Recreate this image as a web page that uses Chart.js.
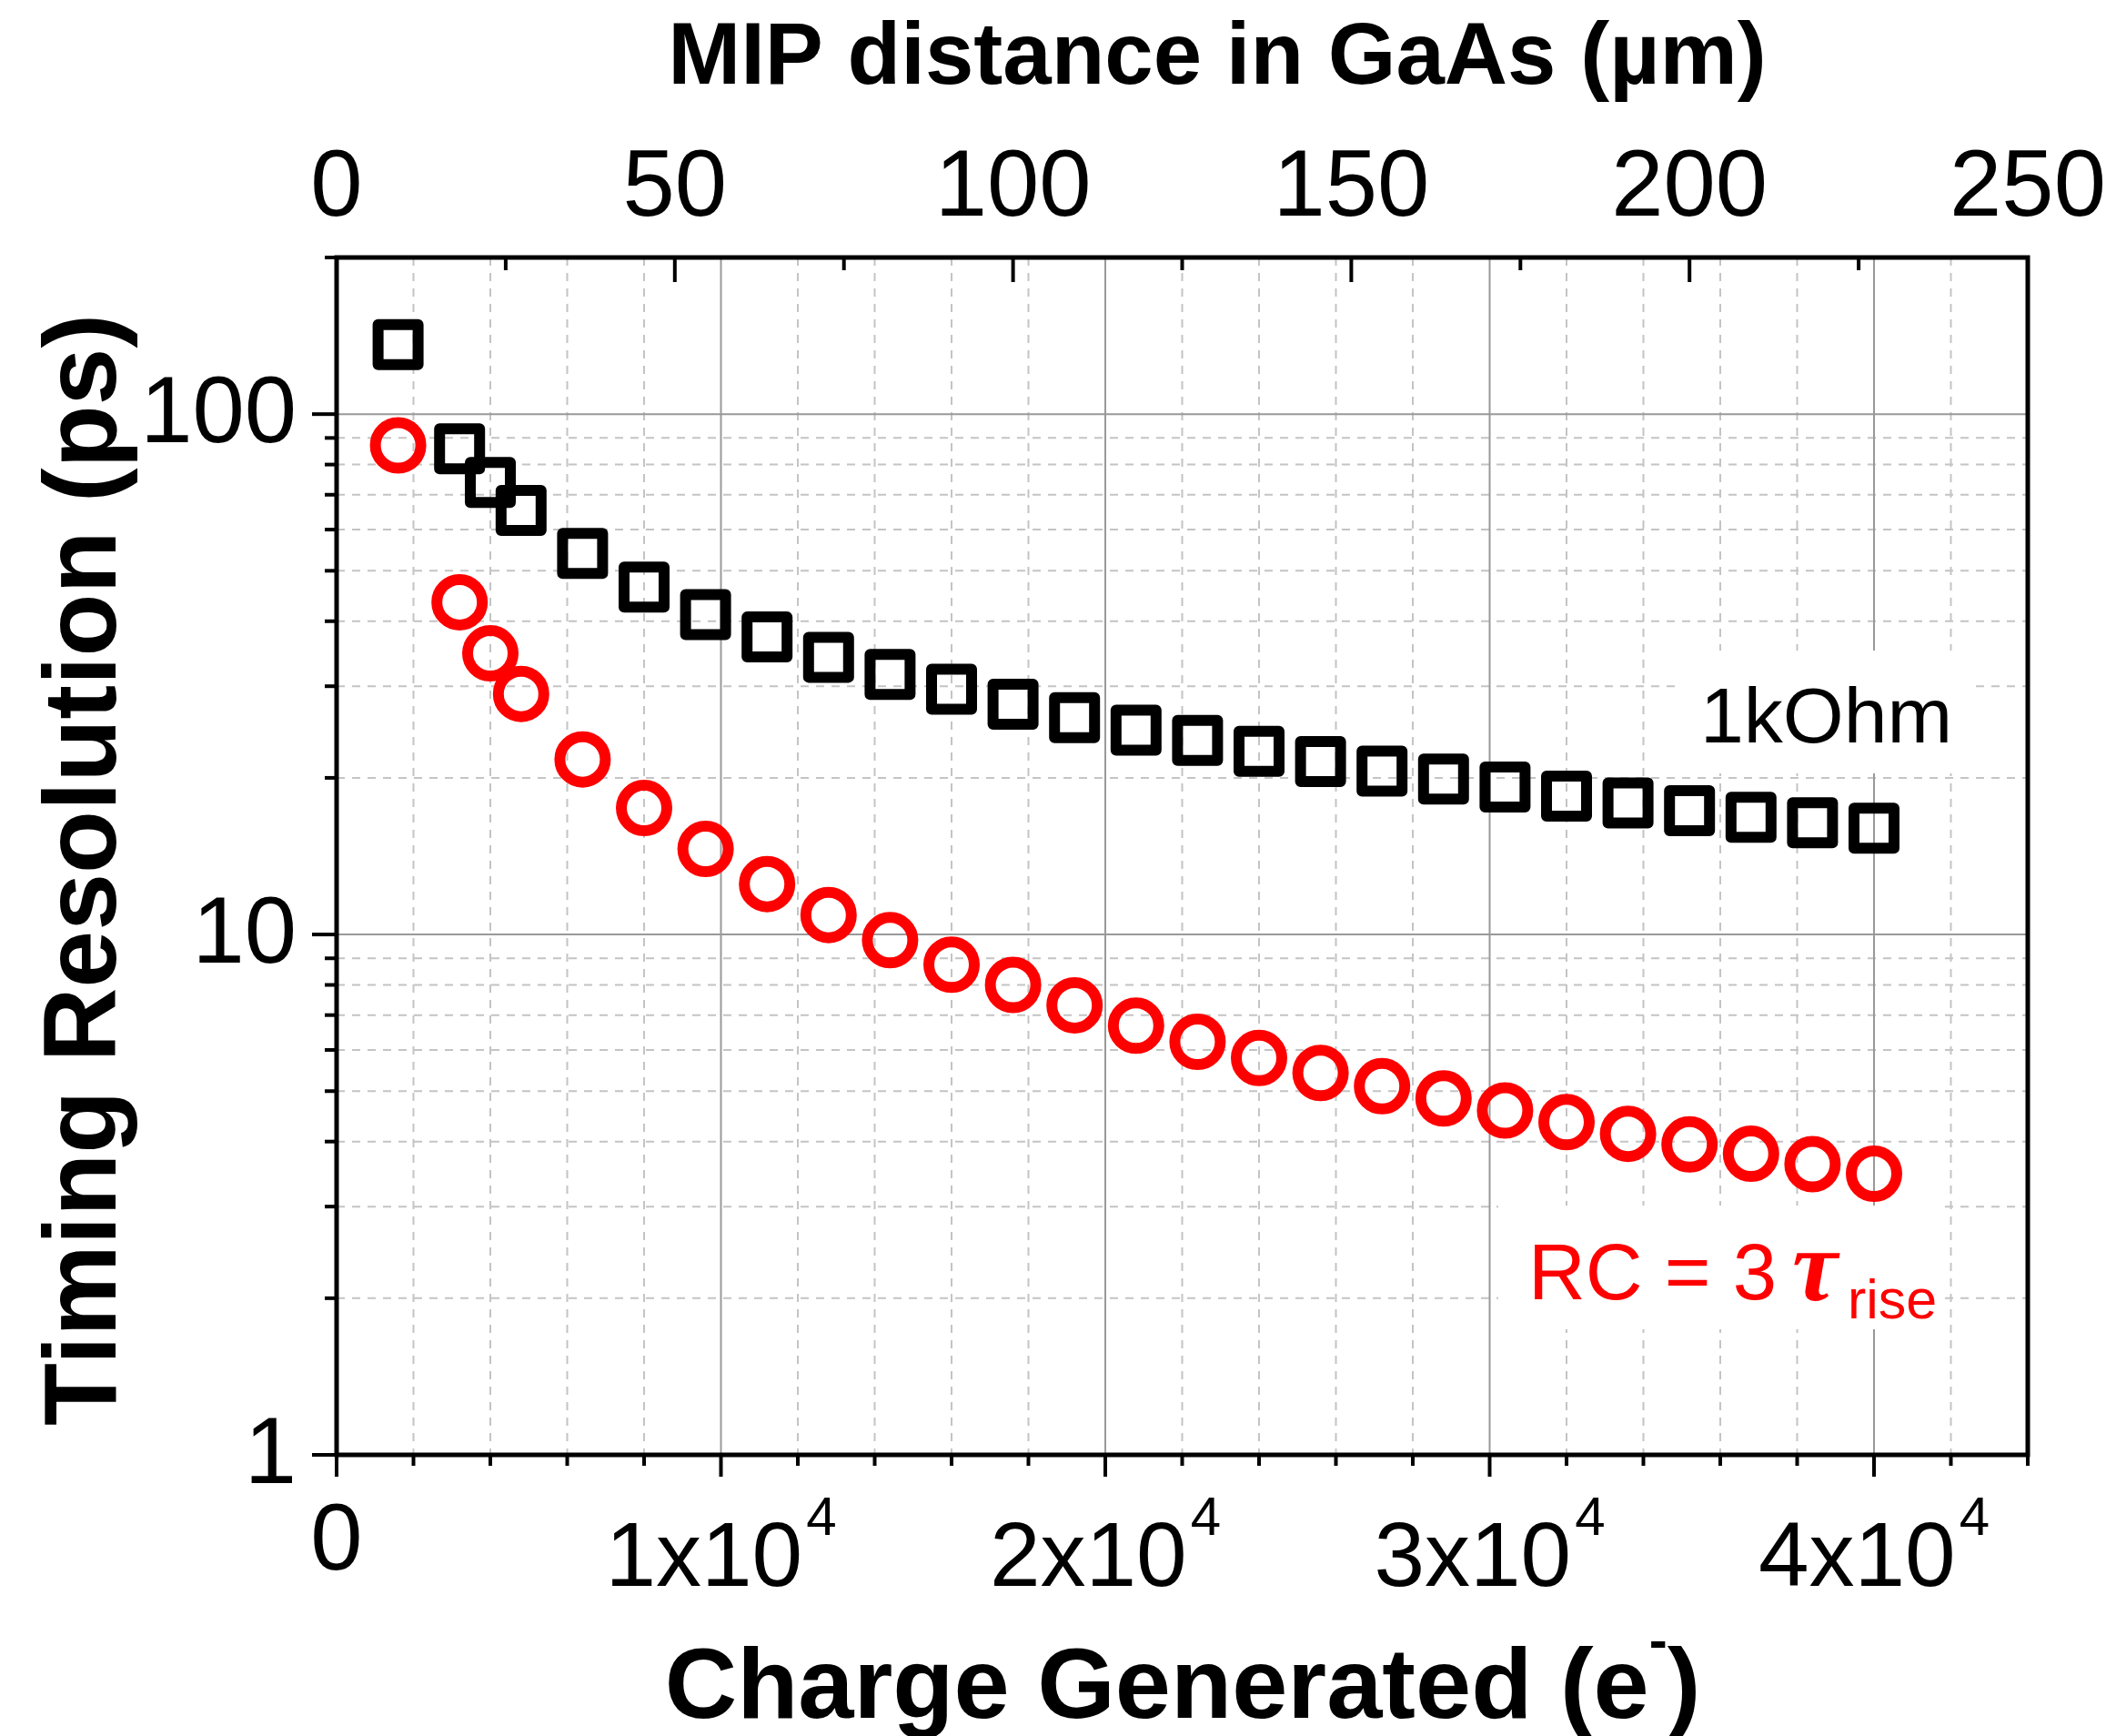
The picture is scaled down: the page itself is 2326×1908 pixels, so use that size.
<!DOCTYPE html>
<html>
<head>
<meta charset="utf-8">
<script src="https://cdn.jsdelivr.net/npm/chart.js@4.4.1/dist/chart.umd.min.js"></script>
<style>
  html, body { margin: 0; padding: 0; background: #fff; }
</style>
</head>
<body>
<canvas id="grafico" width="2326" height="1908"></canvas>
<script>
// Carga generada (electrones)
const carga = [1600, 3200, 4000, 4800, 6400, 8000, 9600, 11200, 12800, 14400, 16000, 17600, 19200,
               20800, 22400, 24000, 25600, 27200, 28800, 30400, 32000, 33600, 35200, 36800, 38400, 40000];
// Resolución temporal (ps) - 1kOhm
const res1kOhm = [136, 85.8, 73.9, 65.3, 54.0, 46.5, 41.2, 37.3, 34.1, 31.6, 29.6, 27.7, 26.1,
                  24.7, 23.6, 22.5, 21.5, 20.6, 19.9, 19.2, 18.45, 17.9, 17.3, 16.8, 16.4, 16.0];
// Resolución temporal (ps) - RC = 3 tau rise
const resRC = [87.1, 43.5, 34.7, 29.0, 21.7, 17.5, 14.6, 12.5, 10.9, 9.75, 8.75, 8.0, 7.31,
               6.68, 6.22, 5.79, 5.42, 5.11, 4.84, 4.59, 4.36, 4.14, 3.95, 3.79, 3.62, 3.47];

// Ejes
const topTicks = [0, 50, 100, 150, 200, 250];
const topMinor = [25, 75, 125, 175, 225];
const xMajor = [0, 10000, 20000, 30000, 40000];
const xLabels = ['0', '1x10', '2x10', '3x10', '4x10'];
const xExps = ['', '4', '4', '4', '4'];
const yMajor = [1, 10, 100];
const yLabels = ['1', '10', '100'];
const yMinor = [2, 3, 4, 5, 6, 7, 8, 9, 20, 30, 40, 50, 60, 70, 80, 90];

const FONT = '"Liberation Sans", Arial, Helvetica, sans-serif';

function seg(ctx, x1, y1, x2, y2) {
    ctx.beginPath();
    ctx.moveTo(x1, y1);
    ctx.lineTo(x2, y2);
    ctx.stroke();
}

const ejes = {
    id: 'ejes',
    beforeDatasetsDraw(chart) {
        const { ctx, chartArea: a, scales } = chart;
        const x = scales.x, x2 = scales.x2, y = scales.y;
        ctx.save();

        // rejilla menor
        ctx.lineWidth = 2;
        ctx.strokeStyle = '#c4c4c4';
        ctx.setLineDash([9, 8]);
        for (let v = 2000; v < 44000; v += 2000) {
            if (v % 10000 === 0) continue;
            const px = x.getPixelForValue(v);
            seg(ctx, px, a.top, px, a.bottom);
        }
        yMinor.forEach(v => {
            const py = y.getPixelForValue(v);
            seg(ctx, a.left, py, a.right, py);
        });

        // rejilla mayor
        ctx.setLineDash([]);
        ctx.strokeStyle = '#999';
        xMajor.slice(1).forEach(v => {
            const px = x.getPixelForValue(v);
            seg(ctx, px, a.top, px, a.bottom);
        });
        [10, 100].forEach(v => {
            const py = y.getPixelForValue(v);
            seg(ctx, a.left, py, a.right, py);
        });

        // notas con fondo blanco
        ctx.fillStyle = '#fff';
        ctx.fillRect(1843, 715, 329, 135);
        ctx.fillRect(1647, 1325, 489, 136);
        ctx.textBaseline = 'alphabetic';
        ctx.textAlign = 'left';
        ctx.fillStyle = '#000';
        ctx.font = `86px ${FONT}`;
        ctx.fillText('1kOhm', 1869, 816);
        ctx.fillStyle = '#f00';
        ctx.font = `87px ${FONT}`;
        ctx.fillText('RC = 3', 1680, 1428);
        ctx.font = 'italic bold 112px "Liberation Serif", "Times New Roman", serif';
        ctx.fillText('\u03C4', 1970, 1429);
        ctx.font = `61px ${FONT}`;
        ctx.fillText('rise', 2031, 1449);

        // marco
        ctx.strokeStyle = '#000';
        ctx.lineWidth = 5;
        ctx.strokeRect(a.left, a.top, a.right - a.left, a.bottom - a.top);

        // marcas
        ctx.lineWidth = 4;
        for (let v = 0; v <= 44000; v += 2000) {
            const px = x.getPixelForValue(v);
            seg(ctx, px, a.bottom, px, a.bottom + (v % 10000 === 0 ? 24 : 12));
        }
        yMajor.forEach(v => {
            const py = y.getPixelForValue(v);
            seg(ctx, a.left - 27, py, a.left, py);
        });
        yMinor.concat([200]).forEach(v => {
            const py = y.getPixelForValue(v);
            seg(ctx, a.left - 13, py, a.left, py);
        });
        topTicks.forEach(v => {
            const px = x2.getPixelForValue(v);
            seg(ctx, px, a.top, px, a.top + 27);
        });
        topMinor.forEach(v => {
            const px = x2.getPixelForValue(v);
            seg(ctx, px, a.top, px, a.top + 14);
        });

        // etiquetas
        ctx.fillStyle = '#000';
        ctx.font = `103px ${FONT}`;
        ctx.textAlign = 'center';
        topTicks.forEach(v => ctx.fillText(String(v), x2.getPixelForValue(v), 237));

        ctx.textAlign = 'right';
        yMajor.forEach((v, i) => ctx.fillText(yLabels[i], 326, y.getPixelForValue(v) + 31));

        xMajor.forEach((v, i) => {
            const px = x.getPixelForValue(v);
            if (!xExps[i]) {
                ctx.textAlign = 'center';
                ctx.font = `103px ${FONT}`;
                ctx.fillText(xLabels[i], px, 1725);
                return;
            }
            ctx.textAlign = 'left';
            ctx.font = `100px ${FONT}`;
            const wM = ctx.measureText(xLabels[i]).width;
            ctx.font = `60px ${FONT}`;
            const wS = ctx.measureText(xExps[i]).width;
            const x0 = px - (wM + 4 + wS) / 2;
            ctx.font = `100px ${FONT}`;
            ctx.fillText(xLabels[i], x0, 1743);
            ctx.font = `60px ${FONT}`;
            ctx.fillText(xExps[i], x0 + wM + 4, 1687);
        });

        // títulos
        ctx.textAlign = 'center';
        ctx.font = `bold 96px ${FONT}`;
        ctx.fillText('MIP distance in GaAs (\u00B5m)', 1338, 92);

        ctx.textAlign = 'left';
        const t1 = 'Charge Generated (e', t2 = '-', t3 = ')';
        ctx.font = `bold 110px ${FONT}`;
        const w1 = ctx.measureText(t1).width, w3 = ctx.measureText(t3).width;
        ctx.font = `bold 60px ${FONT}`;
        const w2 = ctx.measureText(t2).width;
        let xs = 1300 - (w1 + w2 + w3) / 2;
        ctx.font = `bold 110px ${FONT}`;
        ctx.fillText(t1, xs, 1888);
        ctx.font = `bold 60px ${FONT}`;
        ctx.fillText(t2, xs + w1, 1823);
        ctx.font = `bold 110px ${FONT}`;
        ctx.fillText(t3, xs + w1 + w2, 1888);

        ctx.save();
        ctx.translate(127, 956);
        ctx.rotate(-Math.PI / 2);
        ctx.textAlign = 'center';
        ctx.font = `bold 113px ${FONT}`;
        ctx.fillText('Timing Resolution (ps)', 0, 0);
        ctx.restore();

        ctx.restore();
        ctx.lineJoin = 'round';
    },
    afterDatasetsDraw(chart) {
        chart.ctx.lineJoin = 'miter';
    }
};

const oculto = { grid: { display: false }, border: { display: false }, ticks: { display: false } };

new Chart(document.getElementById('grafico'), {
    type: 'scatter',
    data: {
        datasets: [{
            label: '1kOhm',
            data: carga.map((c, i) => ({ x: c, y: res1kOhm[i] })),
            pointStyle: 'rect',
            pointRadius: 31.1,
            borderColor: '#000',
            borderWidth: 12,
            backgroundColor: 'rgba(0,0,0,0)'
        }, {
            label: 'RC = 3 tau rise',
            data: carga.map((c, i) => ({ x: c, y: resRC[i] })),
            pointStyle: 'circle',
            pointRadius: 25,
            borderColor: '#f00',
            borderWidth: 12,
            backgroundColor: 'rgba(0,0,0,0)'
        }]
    },
    options: {
        responsive: false,
        animation: false,
        devicePixelRatio: 1,
        events: [],
        layout: { padding: { left: 0, top: 0, right: 97, bottom: 0 } },
        plugins: { legend: { display: false }, tooltip: { enabled: false } },
        scales: {
            x: { type: 'linear', position: 'bottom', min: 0, max: 44000, ...oculto,
                 afterFit: s => { s.height = 309; } },
            x2: { type: 'linear', axis: 'x', position: 'top', min: 0, max: 250, ...oculto,
                  afterFit: s => { s.height = 283; } },
            y: { type: 'logarithmic', position: 'left', min: 1, max: 200, ...oculto,
                 afterFit: s => { s.width = 370; } }
        }
    },
    plugins: [ejes]
});
</script>
</body>
</html>
